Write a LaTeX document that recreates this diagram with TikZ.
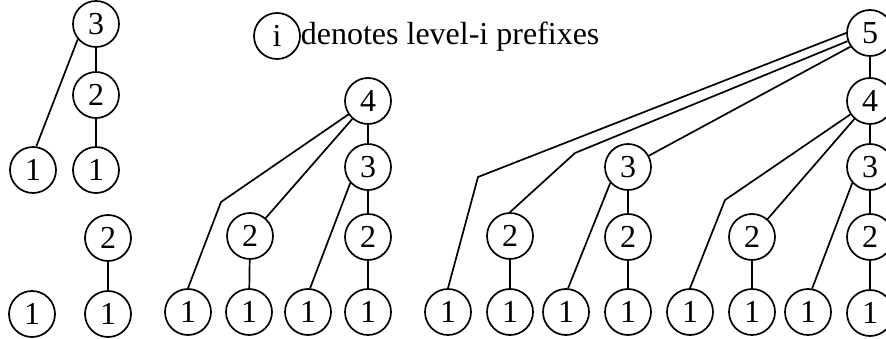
\documentclass[tikz,border=0pt]{standalone}
\usepackage{fontspec}
\setmainfont{Liberation Serif}
\begin{document}
\begin{tikzpicture}[x=1pt,y=-1pt,line width=1.7pt,
	lvl/.style={draw,circle,minimum size=46pt,inner sep=0pt,font=\fontsize{32}{36}\selectfont}]
	\clip (0,0) rectangle (886,339);
	\node [lvl] (a3) at (96,24) {3};
	\node [lvl] (a2) at (96,95) {2};
	\node [lvl] (a1) at (33,170) {1};
	\node [lvl] (a1b) at (96,170) {1};
	\draw (a3) -- (a2) -- (a1b);
	\draw (a3.220) -- (a1.82);
	\node [lvl] (b1) at (32,314) {1};
	\node [lvl] (b2) at (108,238) {2};
	\node [lvl] (b1b) at (108,314) {1};
	\draw (b2) -- (b1b);
	\node [lvl] (key) at (277,36) {i};
	\node [anchor=base west,inner sep=0pt,font=\fontsize{32}{36}\selectfont] (keytext) at (300,45) {denotes level-i prefixes};
	\node [lvl] (c4) at (368,101) {4};
	\node [lvl] (c3) at (368,167) {3};
	\node [lvl] (c2b) at (368,237) {2};
	\node [lvl] (c1d) at (368,312) {1};
	\node [lvl] (c1a) at (188,312) {1};
	\node [lvl] (c2a) at (250,236) {2};
	\node [lvl] (c1b) at (249,312) {1};
	\node [lvl] (c1c) at (308,312) {1};
	\coordinate (cbend) at (221,202);
	\draw (c4) -- (c3) -- (c2b) -- (c1d);
	\draw (c4) -- (cbend) -- (c1a.north);
	\draw (c4) -- (c2a) -- (c1b);
	\draw (c3.222) -- (c1c.85);
	\node [lvl] (d5) at (870,33) {5};
	\node [lvl] (d4) at (870,101) {4};
	\node [lvl] (d3b) at (870,167) {3};
	\node [lvl] (d2d) at (870,237) {2};
	\node [lvl] (d1h) at (870,313) {1};
	\node [lvl] (d3a) at (628,167) {3};
	\node [lvl] (d2c) at (628,237) {2};
	\node [lvl] (d1d) at (628,312) {1};
	\node [lvl] (d1c) at (566,312) {1};
	\node [lvl] (d2a) at (510,236) {2};
	\node [lvl] (d1b) at (510,312) {1};
	\node [lvl] (d1a) at (448,312) {1};
	\node [lvl] (d1e) at (690,312) {1};
	\node [lvl] (d2b) at (752,237) {2};
	\node [lvl] (d1f) at (752,312) {1};
	\node [lvl] (d1g) at (808,312) {1};
	\coordinate (dbend1) at (478,177);
	\coordinate (dbend2) at (575,153);
	\coordinate (dbend3) at (725,200);
	\draw (d5) -- (d4) -- (d3b) -- (d2d) -- (d1h);
	\draw (d5.180) -- (dbend1) -- (d1a.north);
	\draw (d5.200) -- (dbend2) -- (d2a.north);
	\draw (d5.215) -- (d3a);
	\draw (d3a) -- (d2c) -- (d1d);
	\draw (d3a.222) -- (d1c.85);
	\draw (d2a) -- (d1b);
	\draw (d4) -- (dbend3) -- (d1e.north);
	\draw (d4) -- (d2b) -- (d1f);
	\draw (d3b.222) -- (d1g.80);
\end{tikzpicture}
\end{document}
